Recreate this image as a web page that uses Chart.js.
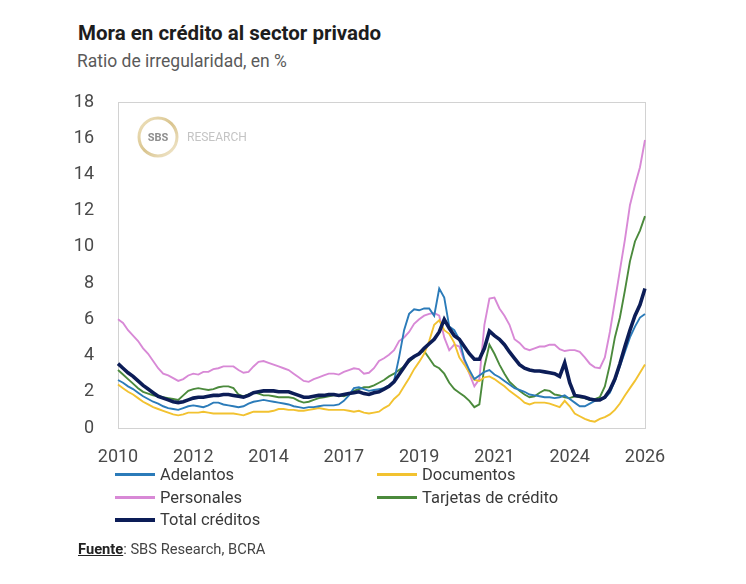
<!DOCTYPE html>
<html>
<head>
<meta charset="utf-8">
<script src="https://cdn.jsdelivr.net/npm/chart.js@4.4.1/dist/chart.umd.min.js"></script>
<style>
  body { margin: 0; background: #fff; font-family: Roboto, sans-serif; }
  #wrap { position: relative; width: 746px; height: 584px; overflow: hidden; }
  #chart { position: absolute; left: 0; top: 0; }
  .title { position: absolute; left: 78px; top: 21px; font-size: 20.5px; font-weight: bold; color: #1d1d1d; }
  .subtitle { position: absolute; left: 77px; top: 51px; font-size: 17.5px; color: #5a5a5a; }
  .leg { position: absolute; font-size: 16.5px; color: #3a3a3a; white-space: nowrap; }
  .leg span { display: inline-block; width: 40px; vertical-align: middle; margin-right: 5px; position: relative; top: -1px; }
  .source { position: absolute; left: 78px; top: 540px; font-size: 14.7px; color: #444; }
  .source b { text-decoration: underline; color: #222; }
</style>
</head>
<body>
<div id="wrap">
  <div class="title">Mora en crédito al sector privado</div>
  <div class="subtitle">Ratio de irregularidad, en %</div>
  <canvas id="chart" width="746" height="584"></canvas>
  <div id="legend"></div>
  <div class="source"><b>Fuente</b>: SBS Research, BCRA</div>
</div>
<script>
// x axis: evenly spaced labels, 15 samples between each label
const xTicks = ['2010', '2012', '2014', '2017', '2019', '2021', '2024', '2026'];
const stepsPerTick = 15;

const adelantos = [2.65,2.5,2.3,2.15,1.95,1.75,1.6,1.45,1.35,1.2,1.1,1.05,1.0,1.1,1.2,1.25,1.2,1.15,1.25,1.4,
  1.4,1.3,1.25,1.2,1.15,1.2,1.35,1.45,1.5,1.55,1.5,1.45,1.4,1.35,1.3,1.2,1.15,1.1,1.15,1.15,
  1.2,1.25,1.25,1.25,1.3,1.5,1.8,2.2,2.25,2.15,2.05,2.1,2.15,2.2,2.35,2.6,3.9,5.4,6.3,6.55,
  6.5,6.6,6.6,6.2,7.7,7.2,5.6,5.4,4.9,3.8,3.2,2.7,2.9,3.1,3.2,2.95,2.8,2.6,2.4,2.2,
  2.1,2.0,1.85,1.8,1.75,1.7,1.7,1.65,1.7,1.8,1.6,1.4,1.2,1.2,1.35,1.5,1.55,1.65,1.95,2.6,
  3.4,4.2,5.0,5.6,6.1,6.3];

const documentos = [2.4,2.2,2.0,1.85,1.65,1.45,1.3,1.15,1.05,0.95,0.85,0.75,0.7,0.75,0.85,0.85,0.85,0.9,0.85,0.8,
  0.8,0.8,0.8,0.8,0.75,0.7,0.8,0.9,0.9,0.9,0.9,0.95,1.05,1.05,1.0,1.0,0.95,0.95,1.0,1.05,
  1.1,1.05,1.0,1.0,1.0,1.0,0.95,0.9,0.95,0.85,0.8,0.85,0.9,1.1,1.25,1.6,1.85,2.3,2.75,3.25,
  3.65,4.1,4.8,5.7,5.95,5.4,5.2,4.7,3.9,3.5,3.05,2.65,2.6,2.8,2.85,2.7,2.5,2.3,2.05,1.85,
  1.65,1.4,1.3,1.4,1.4,1.4,1.35,1.25,1.15,1.5,1.2,0.8,0.65,0.5,0.4,0.35,0.5,0.6,0.75,1.0,
  1.35,1.8,2.2,2.6,3.05,3.5];

const personales = [6.0,5.8,5.4,5.1,4.8,4.4,4.1,3.7,3.3,3.0,2.9,2.75,2.6,2.7,2.9,3.0,2.95,3.1,3.1,3.25,
  3.3,3.4,3.4,3.4,3.2,3.05,3.1,3.4,3.65,3.7,3.6,3.5,3.4,3.3,3.2,3.0,2.8,2.6,2.55,2.7,
  2.8,2.9,3.0,3.0,2.95,3.1,3.2,3.3,3.25,3.0,3.05,3.3,3.7,3.85,4.05,4.3,4.8,5.0,5.3,5.75,
  6.0,6.2,6.3,6.35,6.2,5.0,4.3,4.6,4.5,3.7,3.0,2.3,2.7,5.7,7.15,7.2,6.6,6.2,5.7,4.9,
  4.7,4.4,4.3,4.4,4.5,4.5,4.6,4.6,4.35,4.25,4.3,4.3,4.2,3.9,3.55,3.35,3.3,3.9,5.3,7.0,
  8.7,10.4,12.3,13.4,14.4,15.9];

const tarjetas = [3.2,2.95,2.7,2.45,2.2,2.0,1.9,1.8,1.75,1.7,1.65,1.6,1.55,1.8,2.05,2.15,2.2,2.15,2.1,2.15,
  2.25,2.3,2.3,2.2,1.85,1.75,1.85,1.95,1.9,1.8,1.8,1.75,1.7,1.7,1.7,1.65,1.5,1.4,1.45,1.55,
  1.65,1.7,1.75,1.8,1.8,1.75,1.85,2.05,2.15,2.25,2.25,2.35,2.5,2.65,2.85,3.0,3.2,3.4,3.65,3.9,
  4.15,4.25,3.85,3.45,3.3,3.0,2.5,2.15,1.95,1.75,1.5,1.15,1.3,3.4,4.6,4.1,3.5,3.0,2.55,2.3,
  2.05,1.85,1.7,1.75,1.95,2.1,2.05,1.85,1.8,1.7,1.65,1.75,1.7,1.65,1.55,1.6,1.7,2.3,3.5,5.0,
  6.1,7.6,9.2,10.3,10.9,11.7];

const totalCreditos = [3.55,3.3,3.05,2.85,2.6,2.35,2.15,1.95,1.75,1.65,1.55,1.45,1.4,1.45,1.55,1.65,1.7,1.7,1.75,1.8,
  1.8,1.85,1.85,1.8,1.75,1.7,1.8,1.95,2.0,2.05,2.05,2.05,2.0,2.0,2.0,1.9,1.8,1.7,1.7,1.75,
  1.8,1.8,1.85,1.85,1.8,1.85,1.9,1.95,2.0,1.9,1.85,1.95,2.0,2.15,2.3,2.55,2.95,3.35,3.75,3.95,
  4.1,4.4,4.65,4.9,5.3,6.0,5.5,5.1,4.9,4.5,4.1,3.8,3.8,4.4,5.35,5.1,4.9,4.6,4.2,3.85,
  3.5,3.3,3.2,3.15,3.15,3.1,3.05,3.0,2.85,3.6,2.5,1.8,1.75,1.7,1.6,1.55,1.55,1.7,2.1,2.7,
  3.55,4.5,5.4,6.2,6.8,7.7];

const seriesNames = ['Adelantos', 'Documentos', 'Personales', 'Tarjetas de crédito', 'Total créditos'];
const seriesColors = ['#2b7bb9', '#f2c230', '#d889d6', '#4b8a3c', '#0c1d57'];

// category labels: a year string every stepsPerTick points, blank otherwise
const labels = [];
for (let i = 0; i < adelantos.length; i++) {
    labels.push(i % stepsPerTick === 0 ? xTicks[i / stepsPerTick] : '');
}

const values = [adelantos, documentos, personales, tarjetas, totalCreditos];
const datasets = values.map((d, k) => ({
    label: seriesNames[k],
    data: d,
    borderColor: seriesColors[k],
    borderWidth: k === 4 ? 3.6 : 1.9,
    pointRadius: 0,
    tension: 0,
    fill: false,
    order: k === 4 ? 0 : k + 1
}));

// plot frame + watermark logo
const frameLogo = {
    id: 'frameLogo',
    beforeDatasetsDraw(chart) {
        const { ctx, chartArea: a } = chart;
        ctx.save();
        ctx.strokeStyle = '#d2d2d2';
        ctx.lineWidth = 1;
        ctx.strokeRect(a.left + 0.5, a.top + 0.5, a.right - a.left, a.bottom - a.top);

        const cx = 158, cy = 137, r = 19;
        const g = ctx.createLinearGradient(cx - r, cy - r, cx + r, cy + r);
        g.addColorStop(0, '#efe3c0');
        g.addColorStop(0.5, '#d9c48e');
        g.addColorStop(1, '#f3ead2');
        ctx.beginPath();
        ctx.arc(cx, cy, r, 0, Math.PI * 2);
        ctx.strokeStyle = g;
        ctx.lineWidth = 3;
        ctx.stroke();
        ctx.fillStyle = '#8e8e8e';
        ctx.font = 'bold 11px Roboto';
        ctx.textAlign = 'center';
        ctx.textBaseline = 'middle';
        ctx.fillText('SBS', cx, cy + 1);
        ctx.fillStyle = '#c4c4c4';
        ctx.font = '12px Roboto';
        ctx.textAlign = 'left';
        ctx.fillText('RESEARCH', 187, cy + 1);
        ctx.restore();
    }
};

new Chart(document.getElementById('chart'), {
    type: 'line',
    data: { labels, datasets },
    options: {
        responsive: false,
        animation: false,
        layout: { padding: { left: 0, right: 101, top: 102, bottom: 116 } },
        plugins: { legend: { display: false }, tooltip: { enabled: false } },
        scales: {
            y: {
                min: 0, max: 18,
                ticks: { stepSize: 2, color: '#4a4a4a', font: { family: 'Roboto', size: 18 }, padding: 16 },
                grid: { display: false },
                border: { display: false },
                afterFit: s => { s.width = 118; }
            },
            x: {
                ticks: { autoSkip: false, maxRotation: 0, color: '#4a4a4a', font: { family: 'Roboto', size: 18 }, padding: 11 },
                grid: { display: false },
                border: { display: false },
                afterFit: s => { s.height = 40; }
            }
        }
    },
    plugins: [frameLogo]
});

// two-column legend as in the source
const legPos = [[115, 465], [377, 465], [115, 488], [377, 488], [115, 510]];
const legend = document.getElementById('legend');
seriesNames.forEach((name, k) => {
    const el = document.createElement('div');
    el.className = 'leg';
    el.style.left = legPos[k][0] + 'px';
    el.style.top = legPos[k][1] + 'px';
    const h = k === 4 ? 4 : 3;
    el.innerHTML = '<span style="height:' + h + 'px;background:' + seriesColors[k] + '"></span>' + name;
    legend.appendChild(el);
});
</script>
</body>
</html>
